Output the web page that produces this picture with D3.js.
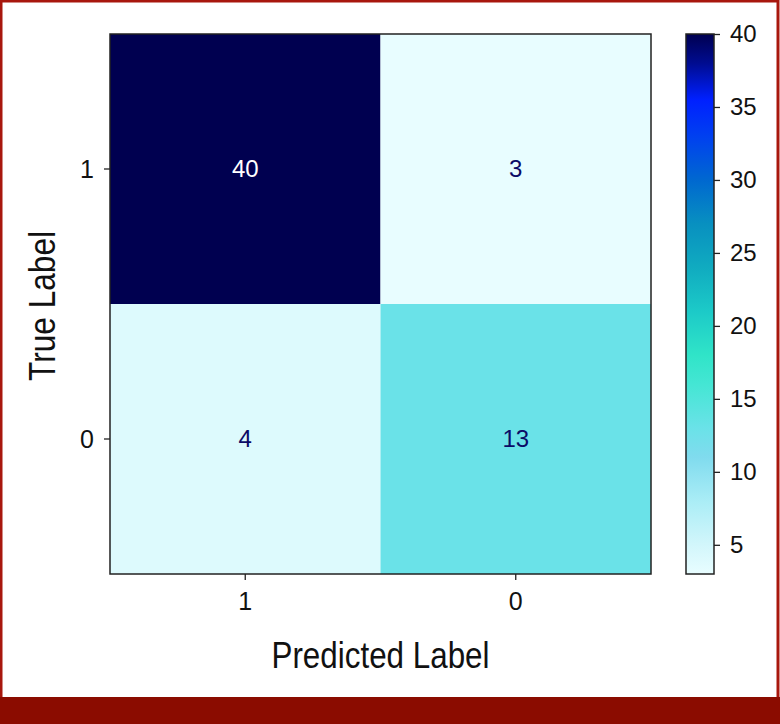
<!DOCTYPE html>
<head>
<meta charset="utf-8">
<style>
body { margin: 0; background: #fff; }
.tick text { font-family: "Liberation Sans", Arial, sans-serif; fill: #111; }
.tick line { stroke: #222; stroke-width: 1.3; }
.cell text { font-family: "Liberation Sans", Arial, sans-serif; text-anchor: middle; }
.title { font-family: "Liberation Sans", Arial, sans-serif; font-size: 36px; fill: #111; text-anchor: middle; }
</style>
</head>
<body>
<svg width="780" height="724"></svg>
<script src="https://cdn.jsdelivr.net/npm/d3@7"></script>
<script>

// confusion matrix, rows = true label, cols = predicted label
const trueLabels = ['1', '0']
const predLabels = ['1', '0']
const counts = [
  [40, 3],
  [4, 13]
]
const colorbarTicks = [5, 10, 15, 20, 25, 30, 35, 40]
const colorDomain = [3, 40]
// colormap stops
const stopValues = [3, 5, 8, 11, 13, 16, 18, 21, 24, 27, 30, 33, 35.5, 38, 40]
const stopColors = ['#e8fdff', '#d2f6fb', '#aaedf6', '#80dbee', '#6ae2e8', '#44e6d4', '#30e4c8',
  '#1ccac8', '#10abc0', '#0890c0', '#0068d0', '#0040f0', '#0020ff', '#000c90', '#000050']

const plot = {left: 110, right: 651, top: 34, bottom: 574}
const bar = {left: 686, right: 714}

const svg = d3.select('svg')

// red frame
svg.append('rect')
  .attr('x', 1).attr('y', 1).attr('width', 777).attr('height', 700)
  .attr('fill', 'none').attr('stroke', '#a8170d').attr('stroke-width', 3)
svg.append('rect')
  .attr('x', 0).attr('y', 697).attr('width', 780).attr('height', 27)
  .attr('fill', '#8b0c00')

const x = d3.scaleBand().domain(predLabels).range([plot.left, plot.right])
const y = d3.scaleBand().domain(trueLabels).range([plot.top, plot.bottom])
const color = d3.scaleLinear().domain(stopValues).range(stopColors)

const cells = []
trueLabels.forEach((t, i) => {
  predLabels.forEach((p, j) => {
    cells.push({t, p, v: counts[i][j]})
  })
})

const cellSel = svg.append('g')
  .attr('class', 'cell')
  .selectAll('g')
  .data(cells)
  .enter()
  .append('g')

cellSel.append('rect')
  .attr('x', d => x(d.p))
  .attr('y', d => y(d.t))
  .attr('width', x.bandwidth())
  .attr('height', y.bandwidth())
  .attr('fill', d => color(d.v))

cellSel.append('text')
  .attr('x', d => x(d.p) + x.bandwidth() / 2)
  .attr('y', d => y(d.t) + y.bandwidth() / 2 + 8)
  .attr('fill', d => d.v > 25 ? '#ffffff' : '#0b0b66')
  .style('font-size', '24px')
  .text(d => d.v)

svg.append('rect')
  .attr('x', plot.left).attr('y', plot.top)
  .attr('width', plot.right - plot.left).attr('height', plot.bottom - plot.top)
  .attr('fill', 'none').attr('stroke', '#222').attr('stroke-width', 1.5)

// axes
const xAxis = svg.append('g')
  .attr('transform', `translate(0, ${plot.bottom})`)
  .call(d3.axisBottom(x).tickSize(6).tickPadding(12))
xAxis.select('.domain').remove()
xAxis.selectAll('text').style('font-size', '25px')

const yAxis = svg.append('g')
  .attr('transform', `translate(${plot.left}, 0)`)
  .call(d3.axisLeft(y).tickSize(6).tickPadding(10))
yAxis.select('.domain').remove()
yAxis.selectAll('text').style('font-size', '25px').attr('dy', '0.36em')

svg.append('text')
  .attr('class', 'title')
  .attr('x', (plot.left + plot.right) / 2)
  .attr('y', 668)
  .attr('textLength', 218)
  .attr('lengthAdjust', 'spacingAndGlyphs')
  .text('Predicted Label')

svg.append('text')
  .attr('class', 'title')
  .attr('transform', `translate(55, ${(plot.top + plot.bottom) / 2 + 2}) rotate(-90)`)
  .attr('textLength', 150)
  .attr('lengthAdjust', 'spacingAndGlyphs')
  .text('True Label')

// colorbar
const cScale = d3.scaleLinear().domain(colorDomain).range([plot.bottom, plot.top])
const grad = svg.append('defs').append('linearGradient')
  .attr('id', 'cbar')
  .attr('x1', 0).attr('y1', 1).attr('x2', 0).attr('y2', 0)
grad.selectAll('stop')
  .data(stopValues)
  .enter()
  .append('stop')
  .attr('offset', d => (d - colorDomain[0]) / (colorDomain[1] - colorDomain[0]))
  .attr('stop-color', d => color(d))

svg.append('rect')
  .attr('x', bar.left).attr('y', plot.top)
  .attr('width', bar.right - bar.left).attr('height', plot.bottom - plot.top)
  .attr('fill', 'url(#cbar)')
  .attr('stroke', '#222').attr('stroke-width', 1.5)

const cAxis = svg.append('g')
  .attr('transform', `translate(${bar.right}, 0)`)
  .call(d3.axisRight(cScale).tickValues(colorbarTicks).tickSize(6).tickPadding(10))
cAxis.select('.domain').remove()
cAxis.selectAll('text').style('font-size', '24px')

</script>
</body>
